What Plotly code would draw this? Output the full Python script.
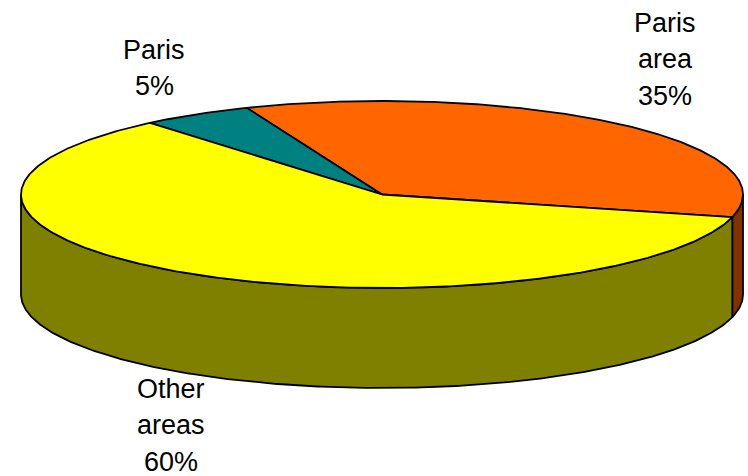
import numpy as np
import plotly.graph_objects as go

# ---- data ----
labels = ["Paris area", "Paris", "Other areas"]
values = [35, 5, 60]

# ---- styling / layout constants ----
top_colors = ["#FF6600", "#008080", "#FFFF00"]
side_colors = ["#803300", "#004040", "#808000"]
W, H = 748, 476
cx, cy, rx, ry, depth = 382, 194.5, 361, 93.5, 100
start_deg = -14
label_pos = [(665, 59), (154, 68), (171, 425)]
font_size = 27
line_pitch = 36.5


def pt(t_deg, dy=0.0):
    t = np.radians(t_deg)
    return cx + rx * np.cos(t), cy - ry * np.sin(t) + dy


fig = go.Figure()
total = float(sum(values))
bounds = []
acc = start_deg
for v in values:
    span = 360.0 * v / total
    bounds.append((acc, acc + span))
    acc += span

line = dict(color="black", width=1.8)

# side walls (front half only)
for (s, e), col in zip(bounds, side_colors):
    for k in (-1, 0, 1):
        a = max(s, 180 + 360 * k)
        b = min(e, 360 + 360 * k)
        if b > a:
            ts = np.linspace(a, b, max(int((b - a) * 2), 4))
            xt, yt = pt(ts)
            xb, yb = pt(ts[::-1], depth)
            xs = np.concatenate([xt, xb, xt[:1]])
            ys = np.concatenate([yt, yb, yt[:1]])
            fig.add_trace(go.Scatter(x=xs, y=ys, mode="lines", fill="toself",
                                     fillcolor=col, line=line, hoverinfo="skip",
                                     showlegend=False))

# top slices
for (s, e), col in zip(bounds, top_colors):
    ts = np.linspace(s, e, max(int((e - s) * 2), 4))
    xa, ya = pt(ts)
    xs = np.concatenate([[cx], xa, [cx]])
    ys = np.concatenate([[cy], ya, [cy]])
    fig.add_trace(go.Scatter(x=xs, y=ys, mode="lines", fill="toself",
                             fillcolor=col, line=line, hoverinfo="skip",
                             showlegend=False))

# labels (one annotation per line for exact line pitch)
for lab, v, (lx, ly) in zip(labels, values, label_pos):
    pct = round(100 * v / total)
    lines = lab.split(" ") + [f"{pct}%"]
    n = len(lines)
    for i, txt in enumerate(lines):
        fig.add_annotation(x=lx, y=ly + (i - (n - 1) / 2) * line_pitch,
                           xref="x", yref="y", text=txt,
                           showarrow=False, xanchor="center", yanchor="middle",
                           font=dict(family="Liberation Sans, Arial",
                                     size=font_size, color="black"))

fig.update_layout(
    width=W, height=H, margin=dict(l=0, r=0, t=0, b=0),
    paper_bgcolor="white", plot_bgcolor="white",
    xaxis=dict(range=[0, W], visible=False, fixedrange=True),
    yaxis=dict(range=[H, 0], visible=False, fixedrange=True),
    showlegend=False,
)
fig.write_html("out.html")
